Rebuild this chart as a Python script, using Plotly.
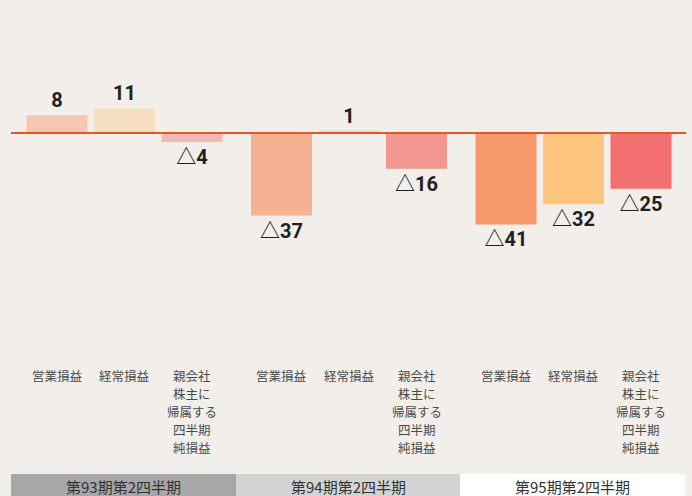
import plotly.graph_objects as go

# ---- data ----
groups = ["第93期第2四半期", "第94期第2四半期", "第95期第2四半期"]
categories = ["営業損益", "経常損益", "親会社<br>株主に<br>帰属する<br>四半期<br>純損益"]
values_93 = [8, 11, -4]
values_94 = [-37, 1, -16]
values_95 = [-41, -32, -25]
colors_93 = ["#f5c7b3", "#f6dfc1", "#f2b9b6"]
colors_94 = ["#f5b192", "#fbd49a", "#f29690"]
colors_95 = ["#f7986b", "#fec57f", "#f27070"]

W, H = 692, 496
BG = "#f2efea"

series = [values_93, values_94, values_95]
colors = [colors_93, colors_94, colors_95]


def fmt(v):
    return "△" + str(abs(v)) if v < 0 else str(v)


# layout geometry (pixels)
plot_top = 0
plot_bottom = 362
zero_px = 133
px_per_unit = 2.23
ymax = (zero_px - plot_top) / px_per_unit
ymin = -(plot_bottom - zero_px) / px_per_unit
group_centers = [124.5, 349, 573.5]
group_half = 101.25
label_top_px = 375      # centre of the first line of category labels
label_line_px = 18      # line spacing of category labels

fig = go.Figure()
for gi, (vals, cols) in enumerate(zip(series, colors)):
    ax = "" if gi == 0 else str(gi + 1)
    fig.add_trace(go.Bar(
        x=categories, y=vals,
        marker=dict(color=cols, line=dict(width=0)),
        text=[fmt(v) for v in vals],
        textposition="outside",
        textfont=dict(family="Roboto, Noto Sans CJK JP", size=20, color="#231f20", weight="bold"),
        cliponaxis=False,
        xaxis="x" + ax, yaxis="y",
        showlegend=False,
        hoverinfo="skip",
    ))
    # category labels, one annotation per line
    for cat in categories:
        for li, line in enumerate(cat.split("<br>")):
            fig.add_annotation(
                text=line, x=cat, xref="x" + ax, yref="paper",
                y=(H - (label_top_px + li * label_line_px)) / H, yanchor="middle",
                xanchor="center", showarrow=False,
                font=dict(family="Noto Sans CJK JP", size=12.5, color="#4a4a4a"),
            )

layout_axes = {}
for gi in range(3):
    key = "xaxis" if gi == 0 else "xaxis%d" % (gi + 1)
    c = group_centers[gi]
    layout_axes[key] = dict(
        domain=[(c - group_half) / W, (c + group_half) / W],
        anchor="y",
        showgrid=False, zeroline=False, showline=False, ticks="",
        showticklabels=False,
        fixedrange=True,
    )

fig.update_layout(
    width=W, height=H,
    margin=dict(l=0, r=0, t=0, b=0),
    paper_bgcolor=BG, plot_bgcolor=BG,
    bargap=0.0963,
    yaxis=dict(domain=[(H - plot_bottom) / H, 1 - plot_top / H], range=[ymin, ymax],
               showgrid=False, zeroline=False, showticklabels=False, showline=False,
               fixedrange=True),
    **layout_axes,
)

# zero line
fig.add_shape(type="line", xref="paper", yref="y", x0=11 / W, x1=686 / W, y0=0, y1=0,
              line=dict(color="#e8552b", width=2), layer="above")

# bottom period bands
band_x = [(11, 236), (236, 460), (460, 685)]
band_colors = ["#a7a6a8", "#d3d3d4", "#ffffff"]
for (x0, x1), bc, label in zip(band_x, band_colors, groups):
    fig.add_shape(type="rect", xref="paper", yref="paper", x0=x0 / W, x1=x1 / W,
                  y0=0, y1=22 / H, fillcolor=bc, line=dict(width=0), layer="below")
    fig.add_annotation(text=label, xref="paper", yref="paper", x=(x0 + x1) / 2 / W,
                       y=10 / H, yanchor="middle", xanchor="center", showarrow=False,
                       borderpad=0,
                       font=dict(family="Noto Sans CJK JP", size=15, color="#333333"))

fig.write_html("out.html",
               config={"displayModeBar": False},
               post_script="document.body.style.margin='0';document.body.style.padding='0';")
